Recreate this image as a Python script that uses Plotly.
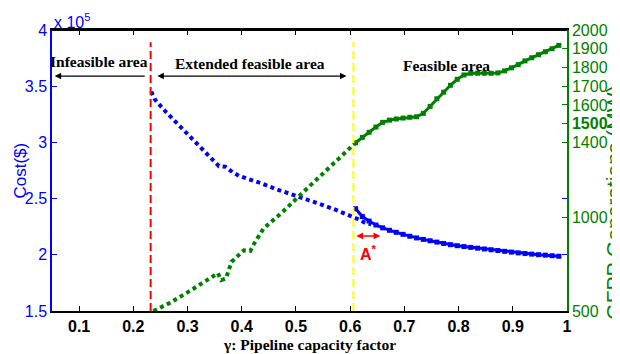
import plotly.graph_objects as go

# ---------------- data ----------------
# Cost (x1e5 $) in the extended feasible area (dotted)
gamma_ext_cost = [0.233, 0.240, 0.261, 0.283, 0.304, 0.326, 0.347, 0.358, 0.370, 0.383,
                  0.396, 0.410, 0.437, 0.465, 0.492, 0.520, 0.547, 0.575, 0.600, 0.615,
                  0.627, 0.639]
cost_ext = [3.453, 3.380, 3.267, 3.158, 3.049, 2.942, 2.836, 2.788, 2.783, 2.735,
            2.700, 2.679, 2.635, 2.582, 2.537, 2.499, 2.447, 2.397, 2.350, 2.316,
            2.287, 2.270]

# Feasible area (solid with markers)
gamma_feas = [0.61, 0.6225, 0.635, 0.6475, 0.66, 0.6725, 0.685, 0.6975, 0.71, 0.7225,
              0.735, 0.7475, 0.76, 0.7725, 0.785, 0.7975, 0.81, 0.8225, 0.835, 0.8475,
              0.86, 0.8725, 0.885, 0.8975, 0.91, 0.9225, 0.935, 0.9475, 0.96, 0.9725,
              0.985]
cost_feas = [2.410, 2.340, 2.300, 2.265, 2.240, 2.218, 2.200, 2.182, 2.165, 2.150,
             2.137, 2.125, 2.113, 2.101, 2.090, 2.081, 2.073, 2.066, 2.059, 2.052,
             2.045, 2.038, 2.031, 2.024, 2.017, 2.011, 2.006, 2.001, 1.997, 1.992,
             1.987]
gfpp_feas = [1398, 1427, 1454, 1482, 1507, 1519, 1525, 1530, 1534, 1537,
             1555, 1592, 1633, 1668, 1705, 1737, 1760, 1769, 1769, 1769,
             1769, 1771, 1782, 1798, 1815, 1835, 1852, 1868, 1884, 1900,
             1918]

# GFPP generation (MW) in the extended feasible area (dotted)
gamma_ext_gen = [0.237, 0.267, 0.305, 0.343, 0.356, 0.362, 0.371, 0.381, 0.393, 0.404,
                 0.416, 0.423, 0.440, 0.474, 0.518, 0.563, 0.598, 0.610]
gfpp_ext = [500, 543, 608, 676, 702, 665, 674, 762, 794, 824,
            821, 860, 940, 1025, 1147, 1270, 1360, 1398]

x_ticks = [0.1, 0.2, 0.3, 0.4, 0.5, 0.6, 0.7, 0.8, 0.9, 1.0]
x_ticklabels = ["0.1", "0.2", "0.3", "0.4", "0.5", "0.6", "0.7", "0.8", "0.9", "1"]
cost_ticks = [1.5, 2, 2.5, 3, 3.5, 4]
cost_ticklabels = ["1.5", "2", "2.5", "3", "3.5", "4"]
gen_ticks = [500, 1000, 1400, 1500, 1600, 1700, 1800, 1900, 2000]
gen_ticklabels = ["500", "1000", "1400", "<b>1500</b>", "1600", "1700", "1800", "1900", "2000"]

gamma_infeasible_limit = 0.232
gamma_feasible_limit = 0.606
gamma_astar = [0.6086, 0.6556]

BLUE = "#0000FF"
GREEN = "#008000"
RED = "#FF0000"
YELLOW = "#FFFF00"
SERIF = "Liberation Serif, Times New Roman, serif"
SANS = "Liberation Sans, Arial, sans-serif"

fig = go.Figure()

fig.add_trace(go.Scatter(x=gamma_ext_cost, y=cost_ext, mode="lines",
                         line=dict(color=BLUE, width=4, dash="4px,3.5px"),
                         showlegend=False))
fig.add_trace(go.Scatter(x=gamma_feas, y=cost_feas, mode="lines+markers",
                         line=dict(color=BLUE, width=3),
                         marker=dict(symbol="square", size=5, color=BLUE),
                         showlegend=False))
fig.add_trace(go.Scatter(x=gamma_ext_gen, y=gfpp_ext, mode="lines", yaxis="y2",
                         line=dict(color=GREEN, width=4, dash="4px,3.5px"),
                         showlegend=False))
fig.add_trace(go.Scatter(x=gamma_feas, y=gfpp_feas, mode="lines+markers", yaxis="y2",
                         line=dict(color=GREEN, width=3),
                         marker=dict(symbol="square", size=5, color=GREEN),
                         showlegend=False))

# vertical boundaries
fig.add_shape(type="line", xref="x", yref="y", x0=gamma_infeasible_limit, x1=gamma_infeasible_limit,
              y0=1.5, y1=3.89, line=dict(color=RED, width=2, dash="8px,4px"))
fig.add_shape(type="line", xref="x", yref="y", x0=gamma_feasible_limit, x1=gamma_feasible_limit,
              y0=1.5, y1=3.89, line=dict(color=YELLOW, width=2, dash="8px,4px"))

ann = []
# region labels
ann.append(dict(x=0.1376, y=3.716, xref="x", yref="y", text="<b>Infeasible area</b>",
                showarrow=False, font=dict(family=SERIF, size=15.5, color="black")))
ann.append(dict(x=0.4155, y=3.70, xref="x", yref="y", text="<b>Extended feasible area</b>",
                showarrow=False, font=dict(family=SERIF, size=15.5, color="black")))
ann.append(dict(x=0.7775, y=3.68, xref="x", yref="y", text="<b>Feasible area</b>",
                showarrow=False, font=dict(family=SERIF, size=15.5, color="black")))
# arrows
ann.append(dict(x=0.055, y=3.59, ax=0.2239, ay=3.59, xref="x", yref="y", axref="x", ayref="y",
                text="", showarrow=True, arrowhead=2, arrowsize=1, arrowwidth=1.3, arrowcolor="black"))
ann.append(dict(x=0.5932, y=3.59, ax=0.2416, ay=3.59, xref="x", yref="y", axref="x", ayref="y",
                text="", showarrow=True, arrowhead=2, startarrowhead=2, arrowside="end+start",
                arrowsize=1, startarrowsize=1, arrowwidth=1.3, arrowcolor="black"))
ann.append(dict(x=gamma_astar[1], y=2.168, ax=gamma_astar[0], ay=2.168, xref="x", yref="y",
                axref="x", ayref="y", text="", showarrow=True, arrowhead=2, startarrowhead=2,
                arrowside="end+start", arrowsize=0.9, startarrowsize=0.9, arrowwidth=1.5,
                arrowcolor=RED))
ann.append(dict(x=0.6345, y=2.02, xref="x", yref="y", text="<b>A<sup>*</sup></b>",
                showarrow=False, font=dict(family=SANS, size=16, color=RED)))
# axis titles
ann.append(dict(x=0.5, y=-0.118, xref="paper", yref="paper", xanchor="center", yanchor="middle",
                text="<b>γ: Pipeline capacity factor</b>", showarrow=False,
                font=dict(family=SERIF, size=15.5, color="black")))
ann.append(dict(x=-0.062, y=0.50, xref="paper", yref="paper", xanchor="center", yanchor="middle",
                textangle=-90, text="Cost($)", showarrow=False,
                font=dict(family=SANS, size=17, color=BLUE)))
ann.append(dict(x=1.091, y=0.385, xref="paper", yref="paper", xanchor="center", yanchor="middle",
                textangle=-90, text="GFPP Generations (MW)", showarrow=False,
                font=dict(family=SANS, size=21, color=GREEN)))
ann.append(dict(x=0.0, y=0.99, xref="paper", yref="paper", xanchor="left", yanchor="bottom",
                text="x 10<sup>5</sup>", showarrow=False,
                font=dict(family=SANS, size=16, color=BLUE)))

# The page body has an 8px default margin, so the figure is drawn 8px smaller
fig.update_layout(
    width=612, height=346,
    margin=dict(l=44, r=51, t=22, b=43),
    paper_bgcolor="white", plot_bgcolor="white",
    annotations=ann,
    xaxis=dict(range=[0.05, 1.0], tickvals=x_ticks, ticktext=x_ticklabels,
               ticks="inside", ticklen=5, tickcolor="black", showline=True,
               linecolor="black", linewidth=2, mirror="ticks", showgrid=False,
               zeroline=False,
               tickfont=dict(family=SANS, size=16, color="black", weight="bold")),
    yaxis=dict(range=[1.5, 4.0], tickvals=cost_ticks, ticktext=cost_ticklabels,
               ticks="inside", ticklen=5, tickcolor=BLUE, showline=True,
               linecolor=BLUE, linewidth=1.5, mirror="ticks", showgrid=False,
               zeroline=False, tickfont=dict(family=SANS, size=16, color=BLUE)),
    yaxis2=dict(range=[500, 2000], tickvals=gen_ticks, ticktext=gen_ticklabels,
                overlaying="y", side="right", ticks="inside", ticklen=5,
                tickcolor=GREEN, showline=True, linecolor=GREEN, linewidth=1.5,
                showgrid=False, zeroline=False,
                tickfont=dict(family=SANS, size=16, color=GREEN)),
)

# top frame line (black)
fig.add_shape(type="line", xref="paper", yref="paper", x0=0, x1=1, y0=1, y1=1,
              line=dict(color="black", width=2))

fig.write_html("out.html")
